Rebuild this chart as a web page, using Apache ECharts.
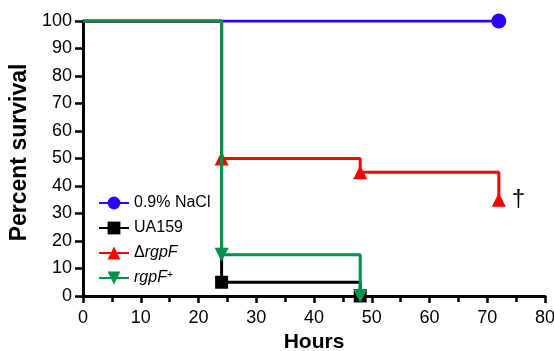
<!DOCTYPE html>
<html><head><meta charset="utf-8">
<script src="https://cdn.jsdelivr.net/npm/echarts@6/dist/echarts.min.js"></script>
<style>html,body{margin:0;padding:0;background:#fff}#c{width:554px;height:351px}</style>
</head><body><div id="c"></div>
<script>
// Kaplan-Meier survival data (hours, percent)
var nacl = [[0, 100], [72, 100]];
var ua159 = [[0, 100], [24, 5], [48, 0]];
var drgpF = [[0, 100], [24, 50], [48, 45], [72, 35]];
var rgpFplus = [[0, 100], [24, 15], [48, 0]];
var seriesNames = ['0.9% NaCl', 'UA159', '\u0394rgpF', 'rgpF+'];
var xTicks = [0, 10, 20, 30, 40, 50, 60, 70, 80];
var yTicks = [0, 10, 20, 30, 40, 50, 60, 70, 80, 90, 100];
var dagger = '\u2020';

function pts(arr, lastLabel) {
  return arr.map(function (p, i) {
    var o = { value: p };
    if (i === 0) o.symbol = 'none';
    if (lastLabel && i === arr.length - 1) o.label = { show: true, formatter: lastLabel, position: 'right', distance: 6, fontSize: 24, color: '#000', fontFamily: 'Liberation Sans' };
    return o;
  });
}

var chart = echarts.init(document.getElementById('c'));
var font = 'Liberation Sans';
chart.setOption({
  animation: false,
  grid: { left: 83, right: 9, top: 21, bottom: 55, containLabel: false, outerBoundsMode: 'none' },
  legend: {
    orient: 'vertical', left: 93, top: 190, itemGap: 9, itemWidth: 30, itemHeight: 16,
    textStyle: { fontFamily: font, fontSize: 16, color: '#000', rich: { i: { fontStyle: 'italic', fontFamily: font, fontSize: 16 }, s: { fontStyle: 'italic', fontFamily: font, fontSize: 10, verticalAlign: 'top', padding: [0, 0, 6, 0] } } },
    formatter: function (n) {
      if (n === seriesNames[2]) return '\u0394{i|rgpF}';
      if (n === seriesNames[3]) return '{i|rgpF}{s|+}';
      return n;
    },
    data: seriesNames
  },
  xAxis: {
    type: 'value', min: 0, max: 80, interval: 10,
    name: 'Hours', nameLocation: 'middle', nameGap: 34,
    nameTextStyle: { fontFamily: font, fontSize: 21, fontWeight: 'bold', color: '#000' },
    axisLine: { show: true, onZero: false, lineStyle: { color: '#000', width: 3 } },
    axisTick: { show: true, length: 7, lineStyle: { color: '#000', width: 2.5 } },
    minorTick: { show: true, splitNumber: 2, length: 6, lineStyle: { color: '#000', width: 2.5 } },
    axisLabel: { fontFamily: font, fontSize: 18, color: '#000', margin: 13, formatter: function (v) { return xTicks.indexOf(v) >= 0 ? String(v) : ''; } },
    splitLine: { show: false }
  },
  yAxis: {
    type: 'value', min: 0, max: 100, interval: 10,
    name: 'Percent survival', nameLocation: 'middle', nameGap: 51,
    nameTextStyle: { fontFamily: font, fontSize: 23, fontWeight: 'bold', color: '#000', padding: [0, 0, 0, 12] },
    axisLine: { show: true, onZero: false, lineStyle: { color: '#000', width: 3 } },
    axisTick: { show: true, length: 8, lineStyle: { color: '#000', width: 2.5 } },
    axisLabel: { fontFamily: font, fontSize: 18, color: '#000', margin: 11, formatter: function (v) { return yTicks.indexOf(v) >= 0 ? String(v) : ''; } },
    splitLine: { show: false }
  },
  series: [
    { name: seriesNames[0], type: 'line', step: 'end', data: pts(nacl), symbol: 'circle', symbolSize: 15, showAllSymbol: true,
      itemStyle: { color: '#2b00ff' }, lineStyle: { color: '#2b00ff', width: 3 }, z: 2 },
    { name: seriesNames[1], type: 'line', step: 'end', data: pts(ua159), symbol: 'rect', symbolSize: 13, showAllSymbol: true,
      itemStyle: { color: '#000' }, lineStyle: { color: '#000', width: 3 }, z: 3 },
    { name: seriesNames[2], type: 'line', step: 'end', data: pts(drgpF, dagger), symbol: 'triangle', symbolSize: 14, showAllSymbol: true,
      itemStyle: { color: '#ff0000' }, lineStyle: { color: '#ff0000', width: 3 }, z: 4 },
    { name: seriesNames[3], type: 'line', step: 'end', data: pts(rgpFplus), symbol: 'triangle', symbolRotate: 180, symbolSize: 14, showAllSymbol: true,
      itemStyle: { color: '#00914a' }, lineStyle: { color: '#00914a', width: 3 }, z: 5 }
  ]
});
</script></body></html>
